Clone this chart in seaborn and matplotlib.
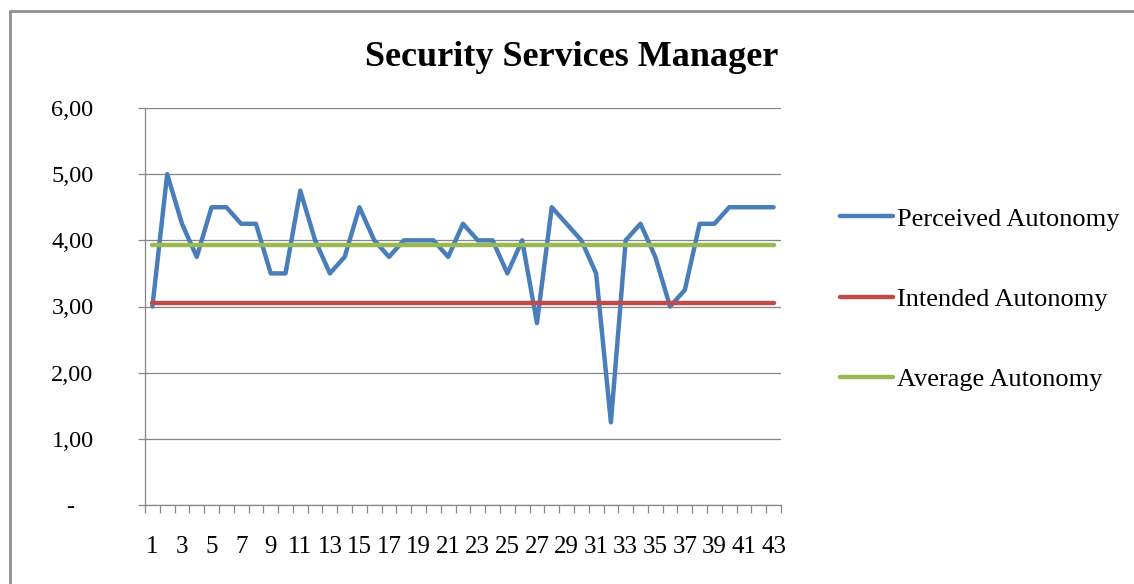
import matplotlib
matplotlib.use("Agg")
import matplotlib.pyplot as plt
from matplotlib.lines import Line2D
import seaborn as sns
import pandas as pd

sns.set_style("white")
plt.rcParams['font.family'] = ['Liberation Serif', 'DejaVu Serif']
plt.rcParams['text.color'] = 'black'
plt.rcParams['xtick.labelcolor'] = 'black'
plt.rcParams['ytick.labelcolor'] = 'black'

# values
categories = list(range(1, 44))
perceived = [3.00, 5.00, 4.25, 3.75, 4.50, 4.50, 4.25, 4.25, 3.50, 3.50,
             4.75, 4.00, 3.50, 3.75, 4.50, 4.00, 3.75, 4.00, 4.00, 4.00,
             3.75, 4.25, 4.00, 4.00, 3.50, 4.00, 2.75, 4.50, 4.25, 4.00,
             3.50, 1.25, 4.00, 4.25, 3.75, 3.00, 3.25, 4.25, 4.25, 4.50,
             4.50, 4.50, 4.50]
intended_level = 3.05
average_level = 3.93
series_names = ["Perceived Autonomy", "Intended Autonomy", "Average Autonomy"]
colors = ["#4A7EBB", "#BE4B48", "#98B954"]
ytick_values = [0, 1, 2, 3, 4, 5, 6]
ytick_labels = ["-   ", "1,00", "2,00", "3,00", "4,00", "5,00", "6,00"]

n = len(categories)
df = pd.DataFrame({
    "cat": categories * 3,
    "value": perceived + [intended_level] * n + [average_level] * n,
    "series": [series_names[0]] * n + [series_names[1]] * n + [series_names[2]] * n,
})

fig = plt.figure(figsize=(11.34, 5.84), dpi=100)
ax = fig.add_axes([145 / 1134, 1 - 505 / 584, 636 / 1134, 397 / 584])

sns.lineplot(data=df, x="cat", y="value", hue="series", hue_order=series_names,
             palette=colors, linewidth=3.2, ax=ax, legend=False,
             solid_capstyle="round")

ax.set_xlim(0.5, n + 0.5)
ax.set_ylim(0, 6)
ax.set_xlabel("")
ax.set_ylabel("")

grid_c = "#868686"
ax.set_yticks(ytick_values)
ax.set_yticklabels(ytick_labels)
ax.yaxis.grid(True, color=grid_c, linewidth=0.9)
ax.set_axisbelow(True)
ax.tick_params(axis="y", direction="out", length=5, width=0.9, color=grid_c,
               pad=32, labelsize=17.5, left=True, labelcolor="black")

ax.set_xticks(categories[::2])
ax.set_xticklabels([str(c) for c in categories[::2]])
ax.set_xticks([c - 0.5 for c in categories] + [n + 0.5], minor=True)
ax.tick_params(axis="x", which="major", length=0, pad=22, labelsize=18,
               labelcolor="black")
ax.tick_params(axis="x", which="minor", direction="out", length=6,
               width=0.9, color=grid_c, bottom=True)

for s in ["top", "right"]:
    ax.spines[s].set_visible(False)
for s in ["left", "bottom"]:
    ax.spines[s].set_color(grid_c)
    ax.spines[s].set_linewidth(0.9)

handles = [Line2D([], [], color=c, linewidth=3.2, solid_capstyle="round") for c in colors]
fig.legend(handles, series_names, loc="center left",
           bbox_to_anchor=(840 / 1134, 1 - 299 / 584), frameon=False,
           fontsize=19, handlelength=2.0, handletextpad=0.15,
           labelspacing=2.15, borderpad=0, borderaxespad=0,
           labelcolor="black")

fig.text(572 / 1134, 1 - 66 / 584, "Security Services Manager",
         ha="center", va="baseline", fontsize=26, fontweight="bold",
         color="black")

# outer chart frame (top and left edges visible)
frame_c = "#8f8f8f"
fig.add_artist(Line2D([10 / 1134, 1], [1 - 11 / 584, 1 - 11 / 584],
                      color=frame_c, linewidth=2))
fig.add_artist(Line2D([10 / 1134, 10 / 1134], [1 - 11 / 584, 0],
                      color=frame_c, linewidth=2))

fig.savefig("out.png", dpi=100)
